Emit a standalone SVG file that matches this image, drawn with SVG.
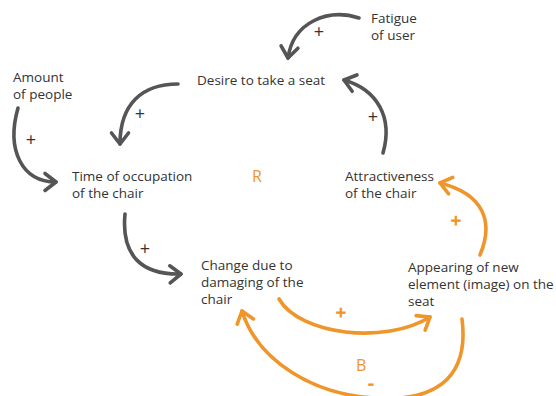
<svg xmlns="http://www.w3.org/2000/svg" width="556" height="396" viewBox="0 0 556 396">
  <style>
    text { font-family: "Open Sans", "Noto Sans", "DejaVu Sans", sans-serif; }
    .node { font-size: 13.5px; fill: #333333; }
    .sign { font-size: 18px; fill: #333333; text-anchor: middle; }
    .sign.o { fill: #f0952a; }
    .loop { font-size: 16px; fill: #f0952a; }
    .link { fill: none; stroke-width: 3.6; stroke-linecap: round; }
    .g { stroke: #555557; }
    .o { stroke: #f0952a; }
  </style>
  <defs>
    <marker id="head-g" markerUnits="userSpaceOnUse" markerWidth="30" markerHeight="30" viewBox="-15 -15 30 30" refX="0" refY="0" orient="auto">
      <path d="M-11,-8.5 L0,0 L-11,8.5" fill="none" stroke="#555557" stroke-width="3.6" stroke-linecap="round" stroke-linejoin="round"/>
    </marker>
    <marker id="head-o" markerUnits="userSpaceOnUse" markerWidth="30" markerHeight="30" viewBox="-15 -15 30 30" refX="0" refY="0" orient="auto">
      <path d="M-11,-8.5 L0,0 L-11,8.5" fill="none" stroke="#f0952a" stroke-width="3.6" stroke-linecap="round" stroke-linejoin="round"/>
    </marker>
  </defs>

  <!-- causal links -->
  <g id="connectors">
    <path class="link g" d="M359,18 C328,8 293,22 288,58" marker-end="url(#head-g)"/>
    <path class="link g" d="M383,153 C393,118 378,90 344,80" marker-end="url(#head-g)"/>
    <path class="link g" d="M178,84 C142,84 120,104 120,144" marker-end="url(#head-g)"/>
    <path class="link g" d="M18,108 C6,150 22,182 56,182" marker-end="url(#head-g)"/>
    <path class="link g" d="M125,214 C121,256 142,275 181,274" marker-end="url(#head-g)"/>
    <path class="link o" d="M480,255 C494,222 484,194 440,183" marker-end="url(#head-o)"/>
    <path class="link o" d="M279,299 C300,335 385,345 430,317" marker-end="url(#head-o)"/>
    <path class="link o" d="M462,319 C470,382 430,402 375,398 C315,395 258,362 242,311" marker-end="url(#head-o)"/>

    <!-- polarities -->
    <text class="sign" x="319" y="38">+</text>
    <text class="sign" x="373" y="123">+</text>
    <text class="sign" x="140" y="120">+</text>
    <text class="sign" x="31" y="146">+</text>
    <text class="sign" x="145" y="255">+</text>
    <text class="sign o" x="456" y="227">+</text>
    <text class="sign o" x="341" y="319">+</text>
    <text class="sign o" x="371" y="390">-</text>
  </g>

  <!-- loop identifiers -->
  <text class="loop" x="252" y="182">R</text>
  <text class="loop" x="356" y="371">B</text>

  <g id="fatigue">
    <text class="node" x="371" y="23">Fatigue</text>
    <text class="node" x="371" y="40">of user</text>
  </g>
  <g id="amount">
    <text class="node" x="13" y="82">Amount</text>
    <text class="node" x="13" y="99">of people</text>
  </g>
  <g id="desire">
    <text class="node" x="197" y="85">Desire to take a seat</text>
  </g>
  <g id="time">
    <text class="node" x="72" y="181">Time of occupation</text>
    <text class="node" x="72" y="198">of the chair</text>
  </g>
  <g id="attractiveness">
    <text class="node" x="345" y="181">Attractiveness</text>
    <text class="node" x="345" y="198">of the chair</text>
  </g>
  <g id="change">
    <text class="node" x="201" y="270">Change due to</text>
    <text class="node" x="201" y="287">damaging of the</text>
    <text class="node" x="201" y="304">chair</text>
  </g>
  <g id="appearing">
    <text class="node" x="408" y="272">Appearing of new</text>
    <text class="node" x="408" y="289">element (image) on the</text>
    <text class="node" x="408" y="306">seat</text>
  </g>
</svg>
